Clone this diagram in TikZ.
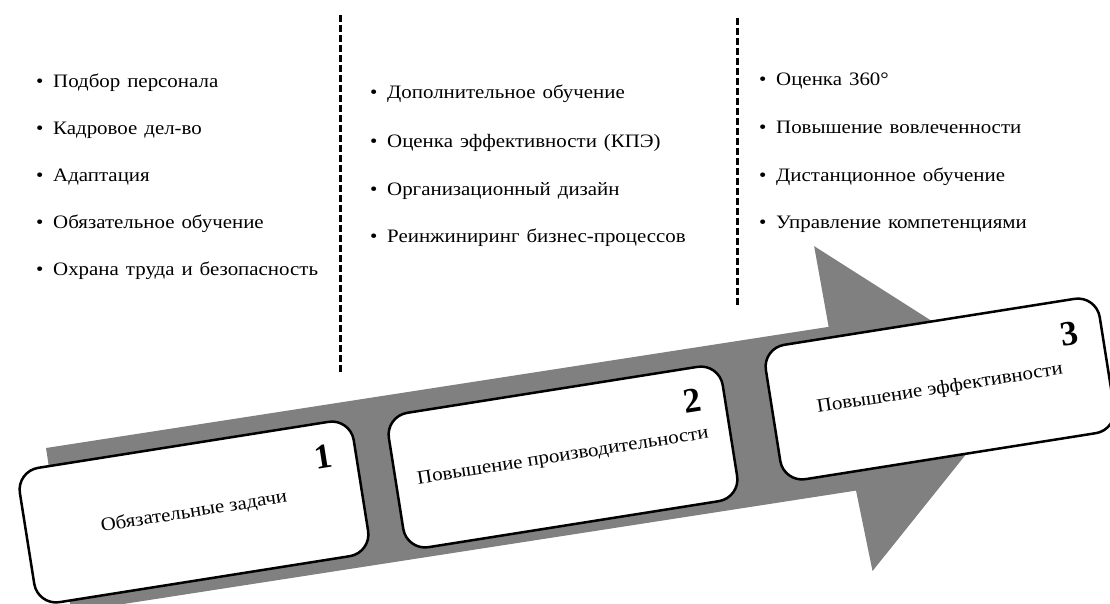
\documentclass[tikz,border=0pt]{standalone}
\usepackage{fontspec}
\setmainfont{Liberation Serif}[FakeStretch=1.1]
\newfontfamily\numfont{Liberation Serif}
\definecolor{arrowgray}{HTML}{808080}
\newcommand{\bul}{\makebox[17pt][l]{•}}
\newcommand{\itemfont}{\fontsize{19}{22}\selectfont\spaceskip=7pt\relax}
\begin{document}
\begin{tikzpicture}[x=1pt,y=-1pt,
  stage/.style={draw=black, line width=2.5pt, fill=white, rounded corners=22pt,
    minimum width=338pt, minimum height=136pt, rotate=9, inner sep=0pt,
    font=\fontsize{19}{22}\selectfont},
  num/.style={font=\numfont\fontsize{35}{35}\selectfont\bfseries, rotate=9, inner sep=0pt},
  item/.style={anchor=base west, inner sep=0pt, font=\itemfont},
  sep/.style={line width=3pt, dash pattern=on 7pt off 3pt}]
\useasboundingbox (0,0) rectangle (1110,603);
\clip (0,0) rectangle (1110,603);
% separators
\coordinate (s1a) at (340,15);
\coordinate (s1b) at (340,372);
\coordinate (s2a) at (737,18);
\coordinate (s2b) at (737,307);
\draw[sep] (s1a) -- (s1b);
\draw[sep] (s2a) -- (s2b);
% lists
\node[item] (a1) at (36,87) {\bul Подбор персонала};
\node[item] (a2) at (36,134) {\bul Кадровое дел-во};
\node[item] (a3) at (36,181) {\bul Адаптация};
\node[item] (a4) at (36,228) {\bul Обязательное обучение};
\node[item] (a5) at (36,275) {\bul Охрана труда и безопасность};
\node[item] (b1i) at (370,98) {\bul Дополнительное обучение};
\node[item] (b2i) at (370,147) {\bul Оценка эффективности (КПЭ)};
\node[item] (b3i) at (370,195) {\bul Организационный дизайн};
\node[item] (b4i) at (370,242) {\bul Реинжиниринг бизнес-процессов};
\node[item] (c1i) at (759,85) {\bul Оценка 360°};
\node[item] (c2i) at (759,133) {\bul Повышение вовлеченности};
\node[item] (c3i) at (759,181) {\bul Дистанционное обучение};
\node[item] (c4i) at (759,228) {\bul Управление компетенциями};
% big arrow
\begin{scope}[shift={(46,448)}, rotate=8.8]
\fill[arrowgray] (0,0) -- (792,0) -- (790,-82) -- (978,83) -- (798,248) -- (794,166) -- (0,166) -- cycle;
\end{scope}
% stages
\begin{scope}[shift={(194,512)}, rotate=9]
\node[stage] (st1) at (0,0) {Обязательные задачи};
\node[num] (n1) at (136,-34) {1};
\end{scope}
\begin{scope}[shift={(563,457)}, rotate=9]
\node[stage] (st2) at (0,0) {Повышение производительности};
\node[num] (n2) at (136,-35) {2};
\end{scope}
\begin{scope}[shift={(940,389)}, rotate=9]
\node[stage] (st3) at (0,0) {Повышение эффективности};
\node[num] (n3) at (136,-34) {3};
\end{scope}
\end{tikzpicture}
\end{document}
